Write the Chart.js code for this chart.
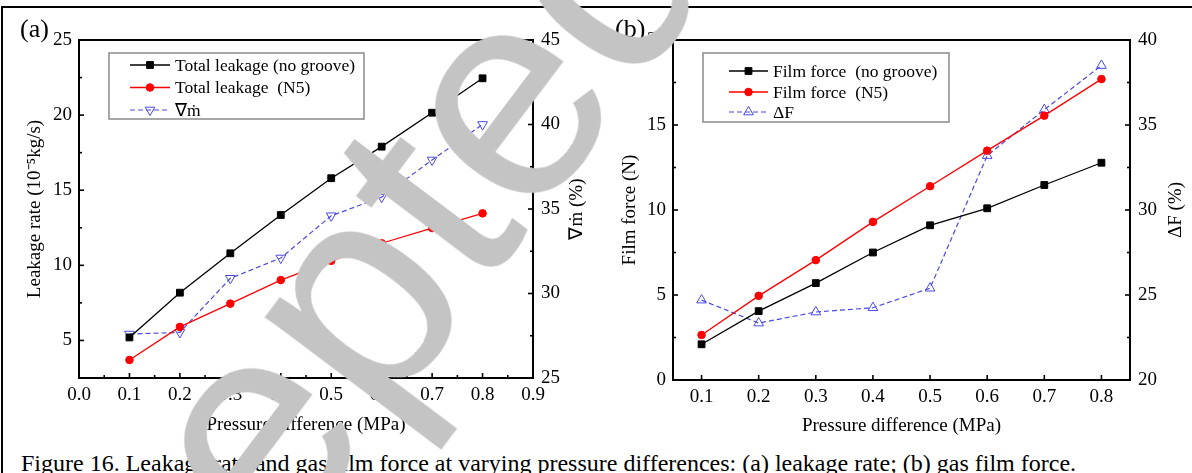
<!DOCTYPE html>
<html>
<head>
<meta charset="utf-8">
<script src="https://cdn.jsdelivr.net/npm/chart.js@4.4.0/dist/chart.umd.min.js"></script>
<style>
html, body { margin: 0; padding: 0; background: #fff; }
body { width: 1192px; height: 473px; overflow: hidden; position: relative; font-family: "Liberation Serif", serif; }
#frame { position: absolute; left: 1px; top: 6px; width: 1300px; height: 600px; border-left: 2px solid #000; border-top: 2px solid #000; }
#chartA { position: absolute; left: 0; top: 0; }
#chartB { position: absolute; left: 596px; top: 0; }
#caption { position: absolute; left: 21px; top: 451px; font-size: 24px; line-height: 24px; white-space: nowrap; color: #000; }
#stamp { position: absolute; left: -22px; top: 707px; font-family: "Liberation Sans", sans-serif;
  font-size: 300px; line-height: 300px; color: #c4c4c4; white-space: nowrap;
  transform-origin: 0 254px; transform: rotate(-53deg); pointer-events: none; }
</style>
</head>
<body>
<div id="frame"></div>
<canvas id="chartA" width="596" height="445"></canvas>
<canvas id="chartB" width="596" height="445"></canvas>
<div id="caption">Figure 16. Leakage rate and gas film force at varying pressure differences: (a) leakage rate; (b) gas film force.</div>
<div id="stamp">Accepted</div>
<script>
Chart.defaults.font.family = "Liberation Serif";
Chart.defaults.color = "#000";

// pressure difference (MPa)
const pressure = [0.1, 0.2, 0.3, 0.4, 0.5, 0.6, 0.7, 0.8];

// (a) leakage rate, 10^-5 kg/s, and reduction in %
const leakNoGroove = [5.2, 8.18, 10.8, 13.35, 15.8, 17.9, 20.16, 22.45];
const leakN5 = [3.7, 5.9, 7.45, 9.02, 10.3, 11.47, 12.48, 13.46];
const leakDrop = [27.6, 27.7, 30.9, 32.1, 34.6, 35.7, 37.9, 40.0];

// (b) film force, N, and gain in %
const forceNoGroove = [2.1, 4.05, 5.7, 7.5, 9.1, 10.1, 11.47, 12.78];
const forceN5 = [2.65, 4.95, 7.05, 9.3, 11.4, 13.49, 15.55, 17.7];
const forceGain = [24.7, 23.35, 24.0, 24.25, 25.4, 33.2, 35.9, 38.5];

// tick labels
const xTicksA = [0, 0.1, 0.2, 0.3, 0.4, 0.5, 0.6, 0.7, 0.8, 0.9];
const xTicksB = [0.1, 0.2, 0.3, 0.4, 0.5, 0.6, 0.7, 0.8];
const yTicksA = [5, 10, 15, 20, 25];
const y2TicksA = [25, 30, 35, 40, 45];
const yTicksB = [0, 5, 10, 15, 20];
const y2TicksB = [20, 25, 30, 35, 40];

const BLUE = "#4a4ae0";
const tickFont = { family: "Liberation Serif", size: 19, lineHeight: 1.2 };

function points(ys) {
  return pressure.map((p, i) => ({ x: p, y: ys[i] }));
}

function series(label, ys, kind, axis) {
  const ds = { label: label, data: points(ys), yAxisID: axis, tension: 0, borderWidth: 1.3 };
  if (kind === "square") {
    Object.assign(ds, { borderColor: "#000", pointStyle: "rect", pointRadius: 4.8,
      pointBackgroundColor: "#000", pointBorderColor: "#000", pointBorderWidth: 1 });
  } else if (kind === "circle") {
    Object.assign(ds, { borderColor: "#f00", pointStyle: "circle", pointRadius: 3.8,
      pointBackgroundColor: "#f00", pointBorderColor: "#f00", pointBorderWidth: 1 });
  } else {
    Object.assign(ds, { borderColor: BLUE, borderDash: [5, 3], borderWidth: 1.2, pointStyle: "triangle",
      pointRotation: kind === "down" ? 180 : 0, pointRadius: 5.6,
      pointBackgroundColor: "rgba(0,0,0,0)", pointBorderColor: BLUE, pointBorderWidth: 1 });
  }
  return ds;
}

function drawMarker(ctx, ds, x, y) {
  const r = ds.pointRadius;
  ctx.save();
  ctx.setLineDash([]);
  ctx.fillStyle = ds.pointBackgroundColor;
  ctx.strokeStyle = ds.pointBorderColor;
  ctx.lineWidth = ds.pointBorderWidth;
  ctx.beginPath();
  if (ds.pointStyle === "rect") {
    const s = r * Math.SQRT1_2;
    ctx.rect(x - s, y - s, 2 * s, 2 * s);
  } else if (ds.pointStyle === "circle") {
    ctx.arc(x, y, r, 0, Math.PI * 2);
  } else {
    const a0 = (ds.pointRotation || 0) * Math.PI / 180;
    for (let k = 0; k < 3; k++) {
      const a = a0 + k * 2 * Math.PI / 3;
      const px = x + Math.sin(a) * r, py = y - Math.cos(a) * r;
      if (k) ctx.lineTo(px, py); else ctx.moveTo(px, py);
    }
    ctx.closePath();
  }
  ctx.fill();
  ctx.stroke();
  ctx.restore();
}

// box, inward ticks, right-hand title and panel letter
const axesFrame = {
  id: "axesFrame",
  beforeDatasetsDraw(chart, args, opts) {
    const { ctx, chartArea: a, scales } = chart;
    ctx.save();
    ctx.strokeStyle = "#000";
    ctx.lineWidth = 2;
    ctx.strokeRect(a.left, a.top, a.right - a.left, a.bottom - a.top);
    ctx.lineWidth = 1.6;
    const seg = (x1, y1, x2, y2) => { ctx.beginPath(); ctx.moveTo(x1, y1); ctx.lineTo(x2, y2); ctx.stroke(); };
    const marks = (scale, minor) => {
      const vals = scale.ticks.map(t => t.value);
      const out = vals.map(v => ({ v: v, len: 5 }));
      if (minor) for (let i = 0; i < vals.length - 1; i++) out.push({ v: (vals[i] + vals[i + 1]) / 2, len: 3 });
      return out;
    };
    marks(scales.x, opts.xMinor).forEach(t => {
      const px = scales.x.getPixelForValue(t.v);
      seg(px, a.bottom, px, a.bottom - t.len);
    });
    marks(scales.y, true).forEach(t => {
      const py = scales.y.getPixelForValue(t.v);
      seg(a.left, py, a.left + t.len, py);
    });
    marks(scales.y2, true).forEach(t => {
      const py = scales.y2.getPixelForValue(t.v);
      seg(a.right, py, a.right - t.len, py);
    });
    ctx.fillStyle = "#000";
    ctx.font = "26px 'Liberation Serif'";
    ctx.textAlign = "left";
    ctx.textBaseline = "middle";
    ctx.fillText(opts.panel, opts.panelX, 30);
    ctx.font = "19px 'Liberation Serif'";
    ctx.textAlign = "center";
    ctx.translate(opts.rightTitleX, (a.top + a.bottom) / 2);
    ctx.rotate(-Math.PI / 2);
    ctx.fillText(opts.rightTitle, 0, 0);
    ctx.restore();
  }
};

const boxLegend = {
  id: "boxLegend",
  afterDraw(chart, args, opts) {
    const ctx = chart.ctx;
    const [x0, y0, x1, y1] = opts.box;
    ctx.save();
    ctx.strokeStyle = "#8a8a8a";
    ctx.lineWidth = 1.5;
    ctx.strokeRect(x0, y0, x1 - x0, y1 - y0);
    chart.data.datasets.forEach((ds, i) => {
      const y = opts.rows[i];
      ctx.strokeStyle = ds.borderColor;
      ctx.lineWidth = ds.borderWidth;
      ctx.setLineDash(ds.borderDash || []);
      ctx.beginPath();
      ctx.moveTo(opts.lineX[0], y);
      ctx.lineTo(opts.lineX[1], y);
      ctx.stroke();
      drawMarker(ctx, ds, (opts.lineX[0] + opts.lineX[1]) / 2, y);
      ctx.fillStyle = "#000";
      ctx.font = "17.5px 'Liberation Serif'";
      ctx.textAlign = "left";
      ctx.textBaseline = "middle";
      ctx.fillText(ds.label, opts.textX, y + 1);
    });
    ctx.restore();
  }
};

function makeScales(cfg) {
  const H = 445;
  return {
    x: {
      type: "linear", position: "bottom", min: cfg.xMin, max: cfg.xMax,
      afterBuildTicks: s => { s.ticks = cfg.xTicks.map(v => ({ value: v })); },
      afterFit: s => { s.height = H - cfg.bottom; },
      grid: { display: false, drawTicks: false }, border: { display: false },
      ticks: { font: tickFont, color: "#000", padding: 6, maxRotation: 0, autoSkip: false,
        callback: v => Number(v).toFixed(1) },
      title: { display: true, text: "Pressure difference (MPa)", font: tickFont, color: "#000",
        padding: { top: 0, bottom: cfg.xTitlePad } }
    },
    y: {
      type: "linear", position: "left", min: cfg.yMin, max: cfg.yMax,
      afterBuildTicks: s => { s.ticks = cfg.yTicks.map(v => ({ value: v })); },
      afterFit: s => { s.width = cfg.left; },
      grid: { display: false, drawTicks: false }, border: { display: false },
      ticks: { font: tickFont, color: "#000", padding: 7 },
      title: { display: true, text: cfg.yTitle, font: tickFont, color: "#000", padding: { top: cfg.yTitlePad, bottom: 0 } }
    },
    y2: {
      type: "linear", position: "right", min: cfg.y2Min, max: cfg.y2Max,
      afterBuildTicks: s => { s.ticks = cfg.y2Ticks.map(v => ({ value: v })); },
      afterFit: s => { s.width = 596 - cfg.right; },
      grid: { display: false, drawTicks: false }, border: { display: false },
      ticks: { font: tickFont, color: "#000", padding: 8 }
    }
  };
}

function baseOptions(scales, frame, legend) {
  return {
    responsive: false, animation: false, devicePixelRatio: 1,
    layout: { padding: { top: 40, left: 0, right: 0, bottom: 0 } },
    scales: scales,
    plugins: { legend: { display: false }, tooltip: { enabled: false }, axesFrame: frame, boxLegend: legend }
  };
}

new Chart(document.getElementById("chartA"), {
  type: "line",
  data: {
    datasets: [
      series("Total leakage (no groove)", leakNoGroove, "square", "y"),
      series("Total leakage  (N5)", leakN5, "circle", "y"),
      series("\u2207\u1E41", leakDrop, "down", "y2")
    ]
  },
  options: baseOptions(
    makeScales({ xMin: 0, xMax: 0.9, xTicks: xTicksA, yMin: 2.5, yMax: 25, yTicks: yTicksA,
      y2Min: 25, y2Max: 45, y2Ticks: y2TicksA, left: 79, right: 533, bottom: 378,
      yTitle: "Leakage rate (10\u207B\u2075kg/s)", yTitlePad: 24, xTitlePad: 9 }),
    { xMinor: true, panel: "(a)", panelX: 20, rightTitle: "\u2207\u1E41 (%)", rightTitleX: 577 },
    { box: [109, 53, 364, 119], rows: [65, 87.5, 110], lineX: [130, 170], textX: 175 }
  ),
  plugins: [axesFrame, boxLegend]
});

new Chart(document.getElementById("chartB"), {
  type: "line",
  data: {
    datasets: [
      series("Film force  (no groove)", forceNoGroove, "square", "y"),
      series("Film force  (N5)", forceN5, "circle", "y"),
      series("\u0394F", forceGain, "up", "y2")
    ]
  },
  options: baseOptions(
    makeScales({ xMin: 0.05, xMax: 0.85, xTicks: xTicksB, yMin: 0, yMax: 20, yTicks: yTicksB,
      y2Min: 20, y2Max: 40, y2Ticks: y2TicksB, left: 77, right: 534, bottom: 380,
      yTitle: "Film force (N)", yTitlePad: 23, xTitlePad: 8 }),
    { xMinor: false, panel: "(b)", panelX: 19, rightTitle: "\u0394F (%)", rightTitleX: 580 },
    { box: [107, 53, 353, 122], rows: [71, 92, 112], lineX: [133, 172], textX: 177 }
  ),
  plugins: [axesFrame, boxLegend]
});
</script>
</body>
</html>
